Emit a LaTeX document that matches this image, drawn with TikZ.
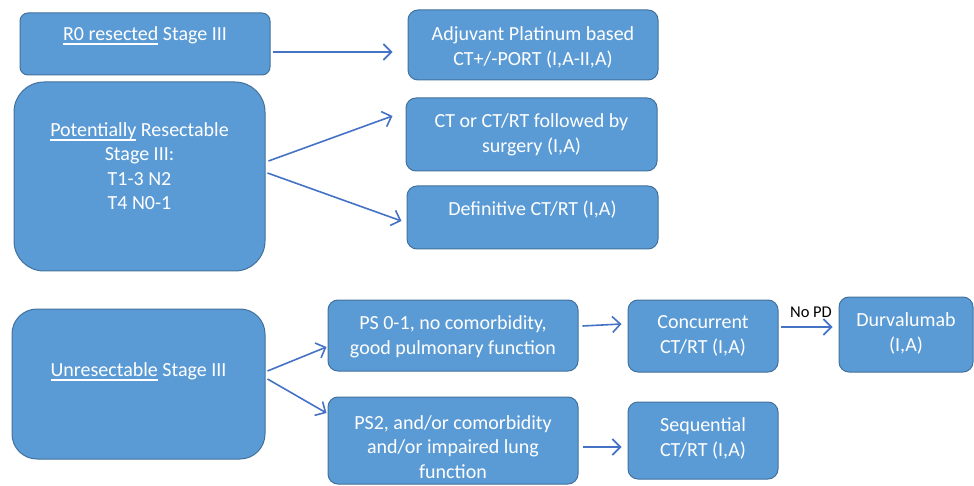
\documentclass[tikz,border=0pt]{standalone}
\usepackage{fontspec}
\setmainfont{Carlito}
\usetikzlibrary{arrows.meta}
\definecolor{boxfill}{HTML}{5B9BD5}
\definecolor{boxline}{HTML}{41719C}
\definecolor{arrcol}{HTML}{4472C4}
\newcommand{\myul}[1]{\setbox0\hbox{#1}\rlap{\rule[-4.5pt]{\wd0}{2pt}}\box0\relax}
\tikzset{
  box/.style={draw=boxline, fill=boxfill, line width=1pt, rectangle, rounded corners=10pt, inner sep=0pt},
  txt/.style={text=white, align=center, inner sep=0pt, font=\fontsize{20}{24.5}\selectfont},
  arr/.style={draw=arrcol, line width=1.6pt, -{Straight Barb[length=8pt,width=16pt,line width=1.6pt]}},
  lbl/.style={text=black, inner sep=0pt, font=\fontsize{16.5}{18}\selectfont}
}
\begin{document}
\begin{tikzpicture}[x=1pt,y=-1pt]
\useasboundingbox (0,0) rectangle (974,486);
% boxes
\node[box, minimum width=250pt, minimum height=62pt, rounded corners=8pt] (r0) at (145,44) {};
\node[box, minimum width=251pt, minimum height=189pt, rounded corners=30pt] (pot) at (139.5,176.5) {};
\node[box, minimum width=250pt, minimum height=70pt] (adj) at (533,45) {};
\node[box, minimum width=251pt, minimum height=73pt] (ctor) at (531.5,134.5) {};
\node[box, minimum width=251pt, minimum height=63pt] (def) at (532.5,217.5) {};
\node[box, minimum width=253pt, minimum height=150pt, rounded corners=25pt] (unr) at (138.5,384) {};
\node[box, minimum width=250pt, minimum height=71pt] (ps01) at (453,335.5) {};
\node[box, minimum width=250pt, minimum height=87pt] (ps2) at (453,440.5) {};
\node[box, minimum width=150pt, minimum height=72pt] (conc) at (703,336) {};
\node[box, minimum width=150pt, minimum height=77pt] (seq) at (703,440.5) {};
\node[box, minimum width=134pt, minimum height=75pt] (dur) at (906,334.5) {};
% texts
\node[txt] (r0t) at (145,36) {\myul{R0 resected} Stage III};
\node[txt] (pott) at (139.5,166) {\myul{Potentially} Resectable\\Stage III:\\T1-3 N2\\T4 N0-1};
\node[txt] (adjt) at (533,47.5) {Adjuvant Platinum based\\CT+/-PORT (I,A-II,A)};
\node[txt] (ctort) at (531.5,135) {CT or CT/RT followed by\\surgery (I,A)};
\node[txt] (deft) at (532.5,210) {Definitive CT/RT (I,A)};
\node[txt] (unrt) at (138.5,372) {\myul{Unresectable} Stage III};
\node[txt] (ps01t) at (453,337) {PS 0-1, no comorbidity,\\good pulmonary function};
\node[txt] (ps2t) at (453,447) {PS2, and/or comorbidity\\and/or impaired lung\\function};
\node[txt] (conct) at (703,336) {Concurrent\\CT/RT (I,A)};
\node[txt] (seqt) at (703,438.5) {Sequential\\CT/RT (I,A)};
\node[txt] (durt) at (906,333.5) {Durvalumab\\(I,A)};
% arrows
\draw[arr] ([xshift=2pt,yshift=-8pt]r0.east) -- ([xshift=-15pt,yshift=-7pt]adj.west);
\draw[arr] ([xshift=3pt,yshift=15.5pt]pot.east) -- ([xshift=-13pt,yshift=18.5pt]ctor.west);
\draw[arr] ([xshift=2pt,yshift=3.5pt]pot.east) -- ([xshift=-5pt,yshift=-3.5pt]def.west);
\draw[arr] ([xshift=2pt,yshift=13pt]unr.east) -- ([xshift=-1pt,yshift=-11.5pt]ps01.west);
\draw[arr] ([xshift=2pt,yshift=5pt]unr.east) -- ([xshift=-1pt,yshift=27.5pt]ps2.west);
\draw[arr] ([xshift=4pt,yshift=9.5pt]ps01.east) -- ([xshift=-6pt,yshift=12pt]conc.west);
\draw[arr] ([xshift=4pt,yshift=-6.5pt]ps2.east) -- ([xshift=-6pt,yshift=-6.5pt]seq.west);
\draw[arr] ([xshift=2pt,yshift=9pt]conc.east) -- ([xshift=-6pt,yshift=7.5pt]dur.west);
\node[lbl] (nopd) at (811,312) {No PD};
\end{tikzpicture}
\end{document}
